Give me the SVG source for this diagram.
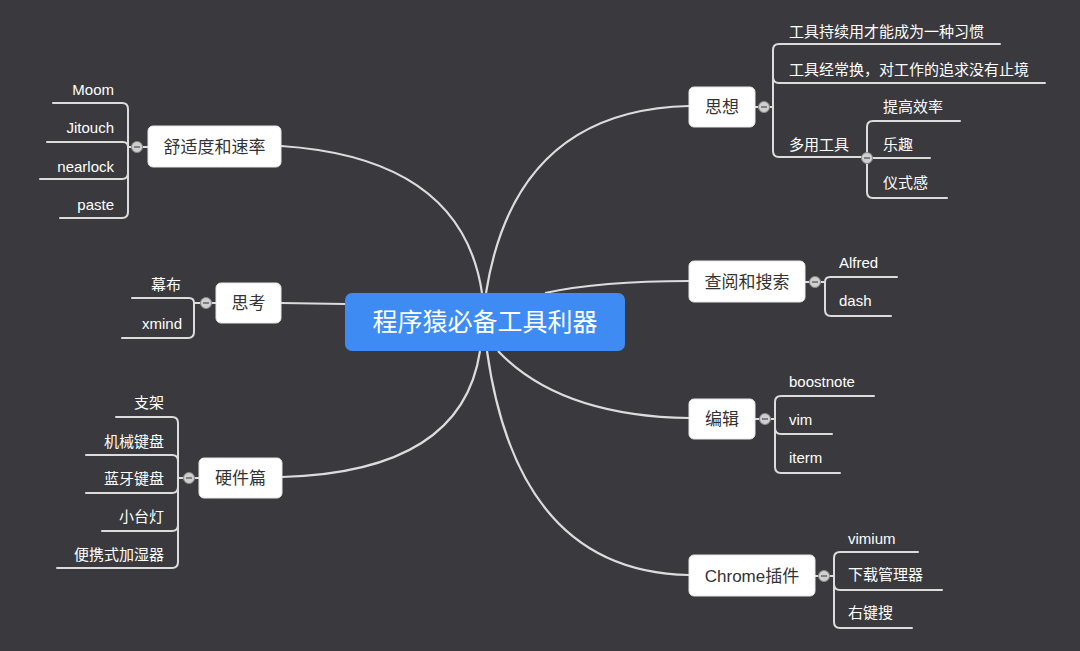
<svg xmlns="http://www.w3.org/2000/svg" width="1080" height="651" viewBox="0 0 1080 651">
<style>
.bg{fill:#3a3a3e}
.ln{fill:none;stroke:#dcdcdc;stroke-width:2;stroke-linecap:round}
.main{fill:none;stroke:#dcdcdc;stroke-width:2.2}
.node{fill:#ffffff;stroke:#e6e6e6;stroke-width:1}
.nt{font-family:"Liberation Sans","Noto Sans CJK SC",sans-serif;font-size:17px;fill:#333333;text-anchor:middle}
.lb{font-family:"Liberation Sans","Noto Sans CJK SC",sans-serif;font-size:15px;fill:#ffffff}
.r{text-anchor:end}
.cc{fill:#cfcfcf;stroke:#8a8a8a;stroke-width:1}
.cm{stroke:#555;stroke-width:1.3}
</style>
<rect class="bg" x="0" y="0" width="1080" height="651"/>

<g id="connectors">
  <path class="main" d="M281,146 Q462,158 482,293"/>
  <path class="main" d="M486,293 Q515,110 689,106"/>
  <path class="main" d="M545,293 Q600,281 689,281"/>
  <path class="main" d="M281,303 L345,304"/>
  <path class="main" d="M480,351 Q462,472 282,477"/>
  <path class="main" d="M498,351 Q560,416 689,418"/>
  <path class="main" d="M487,351 Q518,572 689,575"/>
</g>

<g id="center">
  <rect x="345" y="293" width="280" height="58" rx="7" fill="#3d8bf3"/>
  <text x="485" y="331" font-family="Liberation Sans,'Noto Sans CJK SC',sans-serif" font-size="25" fill="#ffffff" text-anchor="middle">程序猿必备工具利器</text>
</g>

<g id="comfort">
  <path class="ln" d="M148,147 H128 M128,147 V109 Q128,103 122,103 H53 M128,147 Q128,142 123,142 H47 M128,147 V173 Q128,179 122,179 H40 M128,147 V212 Q128,218 122,218 H60"/>
  <rect class="node" x="148" y="126" width="133" height="41" rx="5"/>
  <text class="nt" x="214.5" y="152.5">舒适度和速率</text>
  <circle class="cc" cx="137" cy="147" r="5.5"/><line class="cm" x1="134" y1="147" x2="140" y2="147"/>
  <text class="lb r" x="114" y="95">Moom</text>
  <text class="lb r" x="114" y="133">Jitouch</text>
  <text class="lb r" x="114" y="172">nearlock</text>
  <text class="lb r" x="114" y="210">paste</text>
</g>

<g id="think">
  <path class="ln" d="M216,303 H194 M194,303 Q194,298 189,298 H132 M194,303 V332 Q194,338 188,338 H122"/>
  <rect class="node" x="216" y="283" width="65" height="40" rx="5"/>
  <text class="nt" x="248.5" y="309">思考</text>
  <circle class="cc" cx="206" cy="303" r="5.5"/><line class="cm" x1="203" y1="303" x2="209" y2="303"/>
  <text class="lb r" x="181" y="290">幕布</text>
  <text class="lb r" x="182" y="329">xmind</text>
</g>

<g id="hardware">
  <path class="ln" d="M199,478 H178 M178,478 V423 Q178,417 172,417 H116 M178,478 V461 Q178,455 172,455 H86 M178,478 V487 Q178,493 172,493 H86 M178,478 V525 Q178,531 172,531 H102 M178,478 V562 Q178,568 172,568 H57"/>
  <rect class="node" x="199" y="458" width="83" height="40" rx="5"/>
  <text class="nt" x="240.5" y="484">硬件篇</text>
  <circle class="cc" cx="189" cy="478" r="5.5"/><line class="cm" x1="186" y1="478" x2="192" y2="478"/>
  <text class="lb r" x="164" y="408">支架</text>
  <text class="lb r" x="164" y="447">机械键盘</text>
  <text class="lb r" x="164" y="484">蓝牙键盘</text>
  <text class="lb r" x="164" y="522">小台灯</text>
  <text class="lb r" x="164" y="560">便携式加湿器</text>
</g>

<g id="idea">
  <path class="ln" d="M755,107 H773 M773,107 V50 Q773,44 779,44 H1000 M773,107 V77 Q773,83 779,83 H1045 M773,107 V151 Q773,157 779,157 H867 M867,158 V127 Q867,121 873,121 H960 M867,158 H930 M867,158 V192 Q867,198 873,198 H947"/>
  <rect class="node" x="689" y="87" width="66" height="40" rx="5"/>
  <text class="nt" x="722" y="113">思想</text>
  <circle class="cc" cx="764" cy="107" r="5.5"/><line class="cm" x1="761" y1="107" x2="767" y2="107"/>
  <circle class="cc" cx="867" cy="158" r="5.5"/><line class="cm" x1="864" y1="158" x2="870" y2="158"/>
  <text class="lb" x="789" y="37">工具持续用才能成为一种习惯</text>
  <text class="lb" x="789" y="75">工具经常换，对工作的追求没有止境</text>
  <text class="lb" x="789" y="150">多用工具</text>
  <text class="lb" x="883" y="112">提高效率</text>
  <text class="lb" x="883" y="150">乐趣</text>
  <text class="lb" x="883" y="188">仪式感</text>
</g>

<g id="search">
  <path class="ln" d="M805,282 H825 M825,282 Q825,277 830,277 H897 M825,282 V310 Q825,316 831,316 H891"/>
  <rect class="node" x="689" y="261" width="116" height="41" rx="5"/>
  <text class="nt" x="747" y="287.5">查阅和搜索</text>
  <circle class="cc" cx="815" cy="282" r="5.5"/><line class="cm" x1="812" y1="282" x2="818" y2="282"/>
  <text class="lb" x="839" y="268">Alfred</text>
  <text class="lb" x="839" y="306">dash</text>
</g>

<g id="edit">
  <path class="ln" d="M755,419 H775 M775,419 V402 Q775,396 781,396 H874 M775,419 V428 Q775,434 781,434 H832 M775,419 V467 Q775,473 781,473 H840"/>
  <rect class="node" x="689" y="399" width="66" height="40" rx="5"/>
  <text class="nt" x="722" y="425">编辑</text>
  <circle class="cc" cx="765" cy="419" r="5.5"/><line class="cm" x1="762" y1="419" x2="768" y2="419"/>
  <text class="lb" x="789" y="387">boostnote</text>
  <text class="lb" x="789" y="425">vim</text>
  <text class="lb" x="789" y="463">iterm</text>
</g>

<g id="chrome">
  <path class="ln" d="M815,576 H834 M834,576 V558 Q834,552 840,552 H918 M834,576 V584 Q834,590 840,590 H942 M834,576 V622 Q834,628 840,628 H912"/>
  <rect class="node" x="689" y="555" width="126" height="41" rx="5"/>
  <text class="nt" x="752" y="582">Chrome插件</text>
  <circle class="cc" cx="824" cy="576" r="5.5"/><line class="cm" x1="821" y1="576" x2="827" y2="576"/>
  <text class="lb" x="848" y="544">vimium</text>
  <text class="lb" x="848" y="580">下载管理器</text>
  <text class="lb" x="848" y="618">右键搜</text>
</g>
</svg>
